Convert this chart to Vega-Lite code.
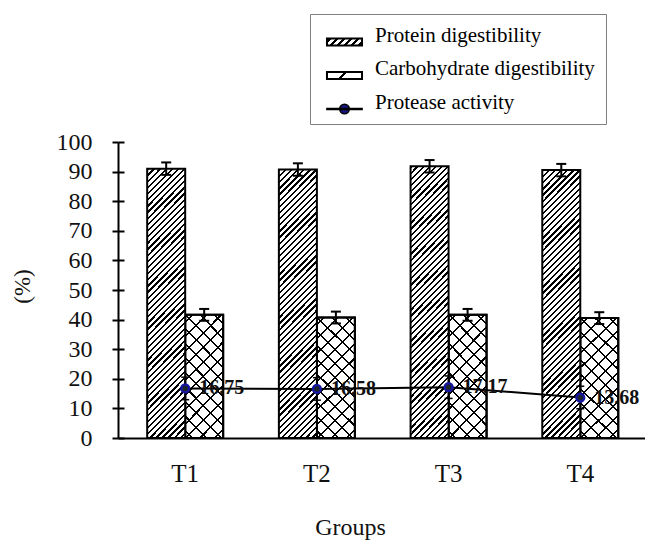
{
  "$schema": "https://vega.github.io/schema/vega-lite/v6.json",
  "width": 527,
  "height": 296,
  "autosize": {"type": "none"},
  "padding": {"left": 118, "top": 142, "right": 0, "bottom": 102},
  "background": "white",
  "config": {
    "view": {"stroke": null},
    "font": "Liberation Serif",
    "axisY": {"grid": false, "domainColor": "#000", "domainWidth": 2, "tickColor": "#000", "tickWidth": 2, "tickSize": 6, "tickCount": 10, "labelFont": "Liberation Serif", "labelFontSize": 24, "labelColor": "#111", "labelPadding": 20, "titleFont": "Liberation Serif", "titleFontSize": 23, "titleFontWeight": "normal", "titleColor": "#111", "titleX": -96, "titleY": 144, "titleBaseline": "middle", "titleAngle": -90},
    "axisX": {"grid": false, "domainColor": "#000", "domainWidth": 2, "ticks": false, "tickSize": 0, "labelFont": "Liberation Serif", "labelFontSize": 25, "labelAngle": 0, "labelColor": "#111", "labelPadding": 43, "labelBaseline": "alphabetic", "titleFont": "Liberation Serif", "titleFontSize": 24, "titleFontWeight": "normal", "titleColor": "#111", "titleX": 232, "titleY": 96, "titleBaseline": "alphabetic", "titleAlign": "center"}
  },
  "resolve": {"scale": {"opacity": "independent"}, "legend": {"opacity": "independent"}, "axis": {"y": "independent"}},
  "data": {"values": [
    {"group": "T1", "series": "Protein digestibility", "value": 91.0, "lo": 88.9, "hi": 93.1},
    {"group": "T2", "series": "Protein digestibility", "value": 90.7, "lo": 88.6, "hi": 92.8},
    {"group": "T3", "series": "Protein digestibility", "value": 91.8, "lo": 89.7, "hi": 93.9},
    {"group": "T4", "series": "Protein digestibility", "value": 90.5, "lo": 88.4, "hi": 92.6},
    {"group": "T1", "series": "Carbohydrate digestibility", "value": 41.6, "lo": 39.6, "hi": 43.6},
    {"group": "T2", "series": "Carbohydrate digestibility", "value": 40.7, "lo": 38.7, "hi": 42.7},
    {"group": "T3", "series": "Carbohydrate digestibility", "value": 41.6, "lo": 39.6, "hi": 43.6},
    {"group": "T4", "series": "Carbohydrate digestibility", "value": 40.5, "lo": 38.5, "hi": 42.5},
    {"group": "T1", "series": "Protease activity", "value": 16.75, "lo": 12.95, "hi": 20.55},
    {"group": "T2", "series": "Protease activity", "value": 16.58, "lo": 12.78, "hi": 20.38},
    {"group": "T3", "series": "Protease activity", "value": 17.17, "lo": 13.37, "hi": 20.97},
    {"group": "T4", "series": "Protease activity", "value": 13.68, "lo": 9.88, "hi": 17.48}
  ]},
  "encoding": {
    "x": {"field": "group", "type": "nominal", "title": "Groups", "scale": {"paddingInner": 0.423, "paddingOuter": 0.2123, "align": 0.522, "round": false}}
  },
  "layer": [
    {
      "transform": [{"filter": "datum.series === 'Carbohydrate digestibility'"}],
      "mark": {"type": "bar", "stroke": "#000", "strokeWidth": 2, "fill": {"gradient": "linear", "x1": 0, "y1": 0, "x2": 0.3737, "y2": 1.1957, "stops": [
        {"offset": 0, "color": "#fff"},
        {"offset": 0.0385, "color": "#fff"}, {"offset": 0.0385, "color": "#000"}, {"offset": 0.0515, "color": "#000"}, {"offset": 0.0515, "color": "#fff"},
        {"offset": 0.1285, "color": "#fff"}, {"offset": 0.1285, "color": "#000"}, {"offset": 0.1415, "color": "#000"}, {"offset": 0.1415, "color": "#fff"},
        {"offset": 0.2185, "color": "#fff"}, {"offset": 0.2185, "color": "#000"}, {"offset": 0.2315, "color": "#000"}, {"offset": 0.2315, "color": "#fff"},
        {"offset": 0.3085, "color": "#fff"}, {"offset": 0.3085, "color": "#000"}, {"offset": 0.3215, "color": "#000"}, {"offset": 0.3215, "color": "#fff"},
        {"offset": 0.3985, "color": "#fff"}, {"offset": 0.3985, "color": "#000"}, {"offset": 0.4115, "color": "#000"}, {"offset": 0.4115, "color": "#fff"},
        {"offset": 0.4885, "color": "#fff"}, {"offset": 0.4885, "color": "#000"}, {"offset": 0.5015, "color": "#000"}, {"offset": 0.5015, "color": "#fff"},
        {"offset": 0.5785, "color": "#fff"}, {"offset": 0.5785, "color": "#000"}, {"offset": 0.5915, "color": "#000"}, {"offset": 0.5915, "color": "#fff"},
        {"offset": 0.6685, "color": "#fff"}, {"offset": 0.6685, "color": "#000"}, {"offset": 0.6815, "color": "#000"}, {"offset": 0.6815, "color": "#fff"},
        {"offset": 0.7585, "color": "#fff"}, {"offset": 0.7585, "color": "#000"}, {"offset": 0.7715, "color": "#000"}, {"offset": 0.7715, "color": "#fff"},
        {"offset": 0.8485, "color": "#fff"}, {"offset": 0.8485, "color": "#000"}, {"offset": 0.8615, "color": "#000"}, {"offset": 0.8615, "color": "#fff"},
        {"offset": 0.9385, "color": "#fff"}, {"offset": 0.9385, "color": "#000"}, {"offset": 0.9515, "color": "#000"}, {"offset": 0.9515, "color": "#fff"},
        {"offset": 1, "color": "#fff"}
      ]}},
      "encoding": {
        "xOffset": {"field": "series", "type": "nominal", "scale": {"domain": ["Protein digestibility", "Carbohydrate digestibility"], "paddingInner": 0, "paddingOuter": 0}},
        "y": {"field": "value", "type": "quantitative", "title": "(%)", "scale": {"domain": [0, 100], "nice": false}, "axis": {"orient": "left"}}
      }
    },
    {
      "transform": [{"filter": "datum.series === 'Carbohydrate digestibility'"}],
      "mark": {"type": "bar", "stroke": "#000", "strokeWidth": 2, "fill": {"gradient": "linear", "x1": 0, "y1": 1, "x2": 0.3737, "y2": -0.1957, "stops": [
        {"offset": 0, "color": "transparent"},
        {"offset": 0.0385, "color": "transparent"}, {"offset": 0.0385, "color": "#000"}, {"offset": 0.0515, "color": "#000"}, {"offset": 0.0515, "color": "transparent"},
        {"offset": 0.1285, "color": "transparent"}, {"offset": 0.1285, "color": "#000"}, {"offset": 0.1415, "color": "#000"}, {"offset": 0.1415, "color": "transparent"},
        {"offset": 0.2185, "color": "transparent"}, {"offset": 0.2185, "color": "#000"}, {"offset": 0.2315, "color": "#000"}, {"offset": 0.2315, "color": "transparent"},
        {"offset": 0.3085, "color": "transparent"}, {"offset": 0.3085, "color": "#000"}, {"offset": 0.3215, "color": "#000"}, {"offset": 0.3215, "color": "transparent"},
        {"offset": 0.3985, "color": "transparent"}, {"offset": 0.3985, "color": "#000"}, {"offset": 0.4115, "color": "#000"}, {"offset": 0.4115, "color": "transparent"},
        {"offset": 0.4885, "color": "transparent"}, {"offset": 0.4885, "color": "#000"}, {"offset": 0.5015, "color": "#000"}, {"offset": 0.5015, "color": "transparent"},
        {"offset": 0.5785, "color": "transparent"}, {"offset": 0.5785, "color": "#000"}, {"offset": 0.5915, "color": "#000"}, {"offset": 0.5915, "color": "transparent"},
        {"offset": 0.6685, "color": "transparent"}, {"offset": 0.6685, "color": "#000"}, {"offset": 0.6815, "color": "#000"}, {"offset": 0.6815, "color": "transparent"},
        {"offset": 0.7585, "color": "transparent"}, {"offset": 0.7585, "color": "#000"}, {"offset": 0.7715, "color": "#000"}, {"offset": 0.7715, "color": "transparent"},
        {"offset": 0.8485, "color": "transparent"}, {"offset": 0.8485, "color": "#000"}, {"offset": 0.8615, "color": "#000"}, {"offset": 0.8615, "color": "transparent"},
        {"offset": 0.9385, "color": "transparent"}, {"offset": 0.9385, "color": "#000"}, {"offset": 0.9515, "color": "#000"}, {"offset": 0.9515, "color": "transparent"},
        {"offset": 1, "color": "transparent"}
      ]}},
      "encoding": {
        "xOffset": {"field": "series", "type": "nominal", "scale": {"domain": ["Protein digestibility", "Carbohydrate digestibility"], "paddingInner": 0, "paddingOuter": 0}},
        "y": {"field": "value", "type": "quantitative", "title": "(%)", "scale": {"domain": [0, 100], "nice": false}, "axis": null}
      }
    },
    {
      "transform": [{"filter": "datum.series === 'Protein digestibility'"}],
      "mark": {"type": "bar", "stroke": "#000", "strokeWidth": 2, "fill": {"gradient": "linear", "x1": 0, "y1": 0, "x2": 0.1605, "y2": 1.1203, "stops": [
        {"offset": 0, "color": "#000"}, {"offset": 0.0075, "color": "#000"}, {"offset": 0.0075, "color": "#fff"}, {"offset": 0.02, "color": "#fff"},
        {"offset": 0.02, "color": "#000"}, {"offset": 0.0275, "color": "#000"}, {"offset": 0.0275, "color": "#fff"}, {"offset": 0.04, "color": "#fff"},
        {"offset": 0.04, "color": "#000"}, {"offset": 0.0475, "color": "#000"}, {"offset": 0.0475, "color": "#fff"}, {"offset": 0.06, "color": "#fff"},
        {"offset": 0.06, "color": "#000"}, {"offset": 0.0675, "color": "#000"}, {"offset": 0.0675, "color": "#fff"}, {"offset": 0.08, "color": "#fff"},
        {"offset": 0.08, "color": "#000"}, {"offset": 0.0875, "color": "#000"}, {"offset": 0.0875, "color": "#fff"}, {"offset": 0.1, "color": "#fff"},
        {"offset": 0.1, "color": "#000"}, {"offset": 0.1075, "color": "#000"}, {"offset": 0.1075, "color": "#fff"}, {"offset": 0.12, "color": "#fff"},
        {"offset": 0.12, "color": "#000"}, {"offset": 0.1275, "color": "#000"}, {"offset": 0.1275, "color": "#fff"}, {"offset": 0.14, "color": "#fff"},
        {"offset": 0.14, "color": "#000"}, {"offset": 0.1475, "color": "#000"}, {"offset": 0.1475, "color": "#fff"}, {"offset": 0.16, "color": "#fff"},
        {"offset": 0.16, "color": "#000"}, {"offset": 0.1675, "color": "#000"}, {"offset": 0.1675, "color": "#fff"}, {"offset": 0.18, "color": "#fff"},
        {"offset": 0.18, "color": "#000"}, {"offset": 0.1875, "color": "#000"}, {"offset": 0.1875, "color": "#fff"}, {"offset": 0.2, "color": "#fff"},
        {"offset": 0.2, "color": "#000"}, {"offset": 0.2075, "color": "#000"}, {"offset": 0.2075, "color": "#fff"}, {"offset": 0.22, "color": "#fff"},
        {"offset": 0.22, "color": "#000"}, {"offset": 0.2275, "color": "#000"}, {"offset": 0.2275, "color": "#fff"}, {"offset": 0.24, "color": "#fff"},
        {"offset": 0.24, "color": "#000"}, {"offset": 0.2475, "color": "#000"}, {"offset": 0.2475, "color": "#fff"}, {"offset": 0.26, "color": "#fff"},
        {"offset": 0.26, "color": "#000"}, {"offset": 0.2675, "color": "#000"}, {"offset": 0.2675, "color": "#fff"}, {"offset": 0.28, "color": "#fff"},
        {"offset": 0.28, "color": "#000"}, {"offset": 0.2875, "color": "#000"}, {"offset": 0.2875, "color": "#fff"}, {"offset": 0.3, "color": "#fff"},
        {"offset": 0.3, "color": "#000"}, {"offset": 0.3075, "color": "#000"}, {"offset": 0.3075, "color": "#fff"}, {"offset": 0.32, "color": "#fff"},
        {"offset": 0.32, "color": "#000"}, {"offset": 0.3275, "color": "#000"}, {"offset": 0.3275, "color": "#fff"}, {"offset": 0.34, "color": "#fff"},
        {"offset": 0.34, "color": "#000"}, {"offset": 0.3475, "color": "#000"}, {"offset": 0.3475, "color": "#fff"}, {"offset": 0.36, "color": "#fff"},
        {"offset": 0.36, "color": "#000"}, {"offset": 0.3675, "color": "#000"}, {"offset": 0.3675, "color": "#fff"}, {"offset": 0.38, "color": "#fff"},
        {"offset": 0.38, "color": "#000"}, {"offset": 0.3875, "color": "#000"}, {"offset": 0.3875, "color": "#fff"}, {"offset": 0.4, "color": "#fff"},
        {"offset": 0.4, "color": "#000"}, {"offset": 0.4075, "color": "#000"}, {"offset": 0.4075, "color": "#fff"}, {"offset": 0.42, "color": "#fff"},
        {"offset": 0.42, "color": "#000"}, {"offset": 0.4275, "color": "#000"}, {"offset": 0.4275, "color": "#fff"}, {"offset": 0.44, "color": "#fff"},
        {"offset": 0.44, "color": "#000"}, {"offset": 0.4475, "color": "#000"}, {"offset": 0.4475, "color": "#fff"}, {"offset": 0.46, "color": "#fff"},
        {"offset": 0.46, "color": "#000"}, {"offset": 0.4675, "color": "#000"}, {"offset": 0.4675, "color": "#fff"}, {"offset": 0.48, "color": "#fff"},
        {"offset": 0.48, "color": "#000"}, {"offset": 0.4875, "color": "#000"}, {"offset": 0.4875, "color": "#fff"}, {"offset": 0.5, "color": "#fff"},
        {"offset": 0.5, "color": "#000"}, {"offset": 0.5075, "color": "#000"}, {"offset": 0.5075, "color": "#fff"}, {"offset": 0.52, "color": "#fff"},
        {"offset": 0.52, "color": "#000"}, {"offset": 0.5275, "color": "#000"}, {"offset": 0.5275, "color": "#fff"}, {"offset": 0.54, "color": "#fff"},
        {"offset": 0.54, "color": "#000"}, {"offset": 0.5475, "color": "#000"}, {"offset": 0.5475, "color": "#fff"}, {"offset": 0.56, "color": "#fff"},
        {"offset": 0.56, "color": "#000"}, {"offset": 0.5675, "color": "#000"}, {"offset": 0.5675, "color": "#fff"}, {"offset": 0.58, "color": "#fff"},
        {"offset": 0.58, "color": "#000"}, {"offset": 0.5875, "color": "#000"}, {"offset": 0.5875, "color": "#fff"}, {"offset": 0.6, "color": "#fff"},
        {"offset": 0.6, "color": "#000"}, {"offset": 0.6075, "color": "#000"}, {"offset": 0.6075, "color": "#fff"}, {"offset": 0.62, "color": "#fff"},
        {"offset": 0.62, "color": "#000"}, {"offset": 0.6275, "color": "#000"}, {"offset": 0.6275, "color": "#fff"}, {"offset": 0.64, "color": "#fff"},
        {"offset": 0.64, "color": "#000"}, {"offset": 0.6475, "color": "#000"}, {"offset": 0.6475, "color": "#fff"}, {"offset": 0.66, "color": "#fff"},
        {"offset": 0.66, "color": "#000"}, {"offset": 0.6675, "color": "#000"}, {"offset": 0.6675, "color": "#fff"}, {"offset": 0.68, "color": "#fff"},
        {"offset": 0.68, "color": "#000"}, {"offset": 0.6875, "color": "#000"}, {"offset": 0.6875, "color": "#fff"}, {"offset": 0.7, "color": "#fff"},
        {"offset": 0.7, "color": "#000"}, {"offset": 0.7075, "color": "#000"}, {"offset": 0.7075, "color": "#fff"}, {"offset": 0.72, "color": "#fff"},
        {"offset": 0.72, "color": "#000"}, {"offset": 0.7275, "color": "#000"}, {"offset": 0.7275, "color": "#fff"}, {"offset": 0.74, "color": "#fff"},
        {"offset": 0.74, "color": "#000"}, {"offset": 0.7475, "color": "#000"}, {"offset": 0.7475, "color": "#fff"}, {"offset": 0.76, "color": "#fff"},
        {"offset": 0.76, "color": "#000"}, {"offset": 0.7675, "color": "#000"}, {"offset": 0.7675, "color": "#fff"}, {"offset": 0.78, "color": "#fff"},
        {"offset": 0.78, "color": "#000"}, {"offset": 0.7875, "color": "#000"}, {"offset": 0.7875, "color": "#fff"}, {"offset": 0.8, "color": "#fff"},
        {"offset": 0.8, "color": "#000"}, {"offset": 0.8075, "color": "#000"}, {"offset": 0.8075, "color": "#fff"}, {"offset": 0.82, "color": "#fff"},
        {"offset": 0.82, "color": "#000"}, {"offset": 0.8275, "color": "#000"}, {"offset": 0.8275, "color": "#fff"}, {"offset": 0.84, "color": "#fff"},
        {"offset": 0.84, "color": "#000"}, {"offset": 0.8475, "color": "#000"}, {"offset": 0.8475, "color": "#fff"}, {"offset": 0.86, "color": "#fff"},
        {"offset": 0.86, "color": "#000"}, {"offset": 0.8675, "color": "#000"}, {"offset": 0.8675, "color": "#fff"}, {"offset": 0.88, "color": "#fff"},
        {"offset": 0.88, "color": "#000"}, {"offset": 0.8875, "color": "#000"}, {"offset": 0.8875, "color": "#fff"}, {"offset": 0.9, "color": "#fff"},
        {"offset": 0.9, "color": "#000"}, {"offset": 0.9075, "color": "#000"}, {"offset": 0.9075, "color": "#fff"}, {"offset": 0.92, "color": "#fff"},
        {"offset": 0.92, "color": "#000"}, {"offset": 0.9275, "color": "#000"}, {"offset": 0.9275, "color": "#fff"}, {"offset": 0.94, "color": "#fff"},
        {"offset": 0.94, "color": "#000"}, {"offset": 0.9475, "color": "#000"}, {"offset": 0.9475, "color": "#fff"}, {"offset": 0.96, "color": "#fff"},
        {"offset": 0.96, "color": "#000"}, {"offset": 0.9675, "color": "#000"}, {"offset": 0.9675, "color": "#fff"}, {"offset": 0.98, "color": "#fff"},
        {"offset": 0.98, "color": "#000"}, {"offset": 0.9875, "color": "#000"}, {"offset": 0.9875, "color": "#fff"}, {"offset": 1, "color": "#fff"}
      ]}},
      "encoding": {
        "xOffset": {"field": "series", "type": "nominal", "scale": {"domain": ["Protein digestibility", "Carbohydrate digestibility"], "paddingInner": 0, "paddingOuter": 0}},
        "y": {"field": "value", "type": "quantitative", "title": "(%)", "scale": {"domain": [0, 100], "nice": false}, "axis": null}
      }
    },
    {
      "transform": [{"filter": "datum.series !== 'Protease activity'"}],
      "mark": {"type": "rule", "color": "#000", "strokeWidth": 2},
      "encoding": {
        "xOffset": {"field": "series", "type": "nominal", "scale": {"domain": ["Protein digestibility", "Carbohydrate digestibility"], "paddingInner": 0, "paddingOuter": 0}},
        "y": {"field": "lo", "type": "quantitative", "title": "(%)", "scale": {"domain": [0, 100], "nice": false}, "axis": null},
        "y2": {"field": "hi"}
      }
    },
    {
      "transform": [{"filter": "datum.series !== 'Protease activity'"}],
      "mark": {"type": "tick", "color": "#000", "size": 10, "thickness": 2, "opacity": 1},
      "encoding": {
        "xOffset": {"field": "series", "type": "nominal", "scale": {"domain": ["Protein digestibility", "Carbohydrate digestibility"], "paddingInner": 0, "paddingOuter": 0}},
        "y": {"field": "hi", "type": "quantitative", "title": "(%)", "scale": {"domain": [0, 100], "nice": false}, "axis": null}
      }
    },
    {
      "transform": [{"filter": "datum.series !== 'Protease activity'"}],
      "mark": {"type": "tick", "color": "#000", "size": 10, "thickness": 2, "opacity": 1},
      "encoding": {
        "xOffset": {"field": "series", "type": "nominal", "scale": {"domain": ["Protein digestibility", "Carbohydrate digestibility"], "paddingInner": 0, "paddingOuter": 0}},
        "y": {"field": "lo", "type": "quantitative", "title": "(%)", "scale": {"domain": [0, 100], "nice": false}, "axis": null}
      }
    },
    {
      "transform": [{"filter": "datum.series === 'Protease activity'"}],
      "mark": {"type": "line", "color": "#000", "strokeWidth": 2},
      "encoding": {
        "y": {"field": "value", "type": "quantitative", "title": "(%)", "scale": {"domain": [0, 100], "nice": false}, "axis": null}
      }
    },
    {
      "transform": [{"filter": "datum.series === 'Protease activity'"}],
      "mark": {"type": "rule", "color": "#000", "strokeWidth": 1.5},
      "encoding": {
        "y": {"field": "lo", "type": "quantitative", "title": "(%)", "scale": {"domain": [0, 100], "nice": false}, "axis": null},
        "y2": {"field": "hi"}
      }
    },
    {
      "transform": [{"filter": "datum.series === 'Protease activity'"}],
      "mark": {"type": "tick", "color": "#000", "size": 8, "thickness": 1.5, "opacity": 1},
      "encoding": {
        "y": {"field": "hi", "type": "quantitative", "title": "(%)", "scale": {"domain": [0, 100], "nice": false}, "axis": null}
      }
    },
    {
      "transform": [{"filter": "datum.series === 'Protease activity'"}],
      "mark": {"type": "tick", "color": "#000", "size": 8, "thickness": 1.5, "opacity": 1},
      "encoding": {
        "y": {"field": "lo", "type": "quantitative", "title": "(%)", "scale": {"domain": [0, 100], "nice": false}, "axis": null}
      }
    },
    {
      "transform": [{"filter": "datum.series === 'Protease activity'"}],
      "mark": {"type": "point", "filled": true, "shape": "circle", "size": 60, "fill": "#1e2628", "stroke": "#1616a0", "strokeWidth": 2.5},
      "encoding": {
        "y": {"field": "value", "type": "quantitative", "title": "(%)", "scale": {"domain": [0, 100], "nice": false}, "axis": null},
        "opacity": {
          "field": "series", "type": "nominal",
          "scale": {"domain": ["Protein digestibility", "Carbohydrate digestibility", "Protease activity"], "range": [1, 1, 1]},
          "legend": {
            "title": null, "orient": "none", "legendX": 192, "legendY": -128,
            "padding": 11, "rowPadding": 11.5, "symbolOffset": 12, "labelOffset": 21,
            "symbolSize": 0,
            "labelFont": "Liberation Serif", "labelFontSize": 21, "labelColor": "#000", "labelLimit": 400,
            "strokeColor": "#808080"
          }
        }
      }
    },
    {
      "transform": [{"filter": "datum.series === 'Protein digestibility'"}],
      "mark": {"type": "point", "filled": true, "size": 0, "shape": "M-2.19,-0.44H2.19V0.44H-2.19Z", "stroke": "#000", "strokeWidth": 2, "fill": {"gradient": "linear", "x1": 0, "y1": 0, "x2": 1.1538, "y2": 0.2308, "stops": [
        {"offset": 0, "color": "#fff"}, {"offset": 0.0533, "color": "#fff"}, {"offset": 0.0533, "color": "#000"}, {"offset": 0.1133, "color": "#000"}, {"offset": 0.1133, "color": "#fff"},
        {"offset": 0.22, "color": "#fff"}, {"offset": 0.22, "color": "#000"}, {"offset": 0.28, "color": "#000"}, {"offset": 0.28, "color": "#fff"},
        {"offset": 0.3867, "color": "#fff"}, {"offset": 0.3867, "color": "#000"}, {"offset": 0.4467, "color": "#000"}, {"offset": 0.4467, "color": "#fff"},
        {"offset": 0.5533, "color": "#fff"}, {"offset": 0.5533, "color": "#000"}, {"offset": 0.6133, "color": "#000"}, {"offset": 0.6133, "color": "#fff"},
        {"offset": 0.72, "color": "#fff"}, {"offset": 0.72, "color": "#000"}, {"offset": 0.78, "color": "#000"}, {"offset": 0.78, "color": "#fff"},
        {"offset": 0.8867, "color": "#fff"}, {"offset": 0.8867, "color": "#000"}, {"offset": 0.9467, "color": "#000"}, {"offset": 0.9467, "color": "#fff"},
        {"offset": 1, "color": "#fff"}
      ]}},
      "encoding": {
        "y": {"field": "value", "type": "quantitative", "title": "(%)", "scale": {"domain": [0, 100], "nice": false}, "axis": null},
        "opacity": {
          "field": "series", "type": "nominal", "scale": {"range": [1]},
          "legend": {"title": null, "orient": "none", "legendX": 217.5, "legendY": -109, "padding": 0, "symbolOffset": 0, "labelOffset": 0, "labelFontSize": 1, "labelExpr": "''", "symbolType": "M-2.19,-0.44H2.19V0.44H-2.19Z", "symbolSize": 256, "symbolStrokeWidth": 2}
        }
      }
    },
    {
      "transform": [{"filter": "datum.series === 'Carbohydrate digestibility'"}],
      "mark": {"type": "point", "filled": true, "size": 0, "shape": "M-2.19,-0.44H2.19V0.44H-2.19Z", "stroke": "#000", "strokeWidth": 2, "fill": {"gradient": "linear", "x1": 0, "y1": 0, "x2": 1.1538, "y2": 0.2308, "stops": [
        {"offset": 0, "color": "#fff"}, {"offset": 0.42, "color": "#fff"}, {"offset": 0.42, "color": "#000"}, {"offset": 0.48, "color": "#000"}, {"offset": 0.48, "color": "#fff"}, {"offset": 1, "color": "#fff"}
      ]}},
      "encoding": {
        "y": {"field": "value", "type": "quantitative", "title": "(%)", "scale": {"domain": [0, 100], "nice": false}, "axis": null},
        "opacity": {
          "field": "series", "type": "nominal", "scale": {"range": [1]},
          "legend": {"title": null, "orient": "none", "legendX": 217.5, "legendY": -75.5, "padding": 0, "symbolOffset": 0, "labelOffset": 0, "labelFontSize": 1, "labelExpr": "''", "symbolType": "M-2.19,-0.44H2.19V0.44H-2.19Z", "symbolSize": 256, "symbolStrokeWidth": 2}
        }
      }
    },
    {
      "transform": [{"filter": "datum.series === 'Protease activity'"}],
      "mark": {"type": "point", "filled": true, "size": 0, "shape": "M-2.2,-0.07H2.2V0.07H-2.2Z M-0.6,0A0.6,0.6 0 1,1 0.6,0A0.6,0.6 0 1,1 -0.6,0Z", "fill": "#16167e", "stroke": "#000", "strokeWidth": 1.5},
      "encoding": {
        "y": {"field": "value", "type": "quantitative", "title": "(%)", "scale": {"domain": [0, 100], "nice": false}, "axis": null},
        "opacity": {
          "field": "series", "type": "nominal", "scale": {"range": [1]},
          "legend": {"title": null, "orient": "none", "legendX": 217.5, "legendY": -42, "padding": 0, "symbolOffset": 0, "labelOffset": 0, "labelFontSize": 1, "labelExpr": "''", "symbolType": "M-2.2,-0.07H2.2V0.07H-2.2Z M-0.6,0A0.6,0.6 0 1,1 0.6,0A0.6,0.6 0 1,1 -0.6,0Z", "symbolSize": 256, "symbolStrokeWidth": 1.5}
        }
      }
    },
    {
      "transform": [{"filter": "datum.series === 'Protease activity'"}],
      "mark": {"type": "text", "align": "left", "baseline": "middle", "dx": 14, "font": "Liberation Serif", "fontSize": 20, "fontWeight": "bold", "color": "#111"},
      "encoding": {
        "y": {"field": "value", "type": "quantitative", "title": null, "scale": {"domain": [0, 100], "nice": false}, "axis": {"orient": "left", "offset": -6, "labels": false, "domain": false, "title": null, "grid": false, "ticks": true, "tickSize": 6, "tickWidth": 2, "tickColor": "#000"}},
        "text": {"field": "value", "type": "quantitative", "format": ".2f"}
      }
    }
  ]
}
